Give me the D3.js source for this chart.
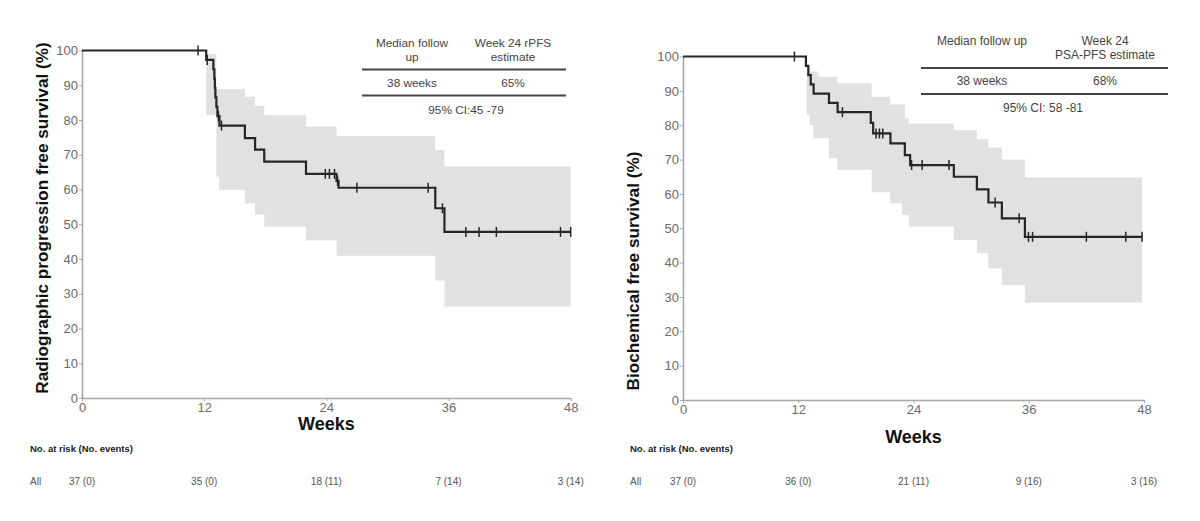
<!DOCTYPE html>
<html lang="en">
<head>
  <meta charset="UTF-8">
  <title>Kaplan-Meier</title>
  <script src="https://d3js.org/d3.v7.min.js"></script>
  <style>
    body { margin: 0; background: #fff; }
    text { font-family: "Liberation Sans", Arial, sans-serif; }
  </style>
</head>
<body>
  <div id="root"></div>
  <script>
    // ---- data ----
    const weekTicks = [0, 12, 24, 36, 48]
    const pctTicks = [0, 10, 20, 30, 40, 50, 60, 70, 80, 90, 100]

    // left: radiographic PFS
    const leftSurvTime = [0, 12.2, 12.9, 13.0, 13.05, 13.1, 13.2, 13.3, 13.5, 16.0, 17.0, 17.9, 22.0, 25.0, 25.2, 34.7, 35.6]
    const leftSurv     = [100, 97.3, 94.6, 91.9, 89.2, 86.5, 83.8, 81.1, 78.4, 74.8, 71.5, 68.0, 64.5, 62.5, 60.5, 54.6, 47.8]
    const leftEnd = 48
    const leftCensor = [11.4, 12.3, 13.4, 13.7, 23.9, 24.3, 24.8, 25.1, 27.0, 34.0, 35.4, 37.7, 39.0, 40.7, 47.0, 48.0]
    const leftCiTime = [12.2, 13.2, 13.45, 16.0, 17.0, 17.9, 22.0, 25.0, 34.7, 35.6]
    const leftLower  = [81.4, 63.7, 59.9, 56.0, 52.7, 49.3, 45.3, 40.9, 33.8, 26.3]
    const leftUpper  = [99, 88.9, 88.9, 86.7, 84.0, 81.4, 78.1, 75.4, 71.4, 66.6]
    const leftAtRisk = ['37 (0)', '35 (0)', '18 (11)', '7 (14)', '3 (14)']

    // right: biochemical (PSA) PFS
    const rightSurvTime = [0, 12.8, 13.05, 13.3, 13.6, 15.2, 16.1, 19.55, 19.8, 21.6, 23.1, 23.65, 28.2, 30.6, 31.8, 33.2, 35.6]
    const rightSurv     = [100, 97.3, 94.6, 91.9, 89.2, 86.5, 83.8, 80.7, 77.6, 74.7, 71.3, 68.4, 65.0, 61.3, 57.5, 52.9, 47.5]
    const rightEnd = 47.8
    const rightCensor = [11.6, 16.6, 20.1, 20.45, 20.8, 23.8, 24.9, 27.7, 32.5, 35.0, 35.97, 36.4, 42.0, 46.1, 47.8]
    const rightCiTime = [12.88, 13.16, 13.57, 14.1, 15.2, 16.07, 19.65, 21.56, 22.8, 23.1, 23.5, 28.2, 30.6, 31.8, 33.2, 35.6]
    const rightLower  = [83, 80, 76.2, 76.2, 70.4, 67, 60.5, 57.3, 53.9, 53.9, 50.5, 46.6, 42.7, 38.3, 33.5, 28.3]
    const rightUpper  = [95.6, 95.6, 95.6, 94.1, 94.1, 92.2, 88.3, 86, 86, 82, 80.5, 78.5, 76, 73.5, 70, 64.8]
    const rightAtRisk = ['37 (0)', '36 (0)', '21 (11)', '9 (16)', '3 (16)']

    const svg = d3.select('#root')
      .append('svg')
      .attr('width', 1200)
      .attr('height', 521)
      .style('background', '#fff')

    function drawPanel(p) {
      const x = d3.scaleLinear().domain([0, 48]).range(p.xr)
      const y = d3.scaleLinear().domain([0, 100]).range(p.yr)
      const g = svg.append('g')

      // confidence band
      const band = p.ciTime.map((t, i) => ({ t: t, lo: p.lower[i], hi: p.upper[i] }))
      band.push({ t: p.end, lo: p.lower[p.lower.length - 1], hi: p.upper[p.upper.length - 1] })
      g.append('path')
        .datum(band)
        .attr('fill', '#e1e1e1')
        .attr('d', d3.area().curve(d3.curveStepAfter)
          .x(d => x(d.t)).y0(d => y(d.lo)).y1(d => y(d.hi)))

      // axes
      const yAxis = g.append('g')
        .attr('transform', `translate(${p.xr[0]},0)`)
        .call(d3.axisLeft(y).tickValues(pctTicks).tickSize(3).tickSizeOuter(0))
      const xAxis = g.append('g')
        .attr('transform', `translate(0,${p.yr[0]})`)
        .call(d3.axisBottom(x).tickValues(weekTicks).tickSize(3).tickSizeOuter(0))
      ;[yAxis, xAxis].forEach(a => {
        a.select('.domain').attr('stroke', '#a8a8a8').attr('stroke-width', 1.6)
        a.selectAll('.tick line').attr('stroke', '#a8a8a8')
        a.selectAll('.tick text').attr('fill', '#6a6a6a').style('font-size', '13px')
          .style('font-family', '"Liberation Sans", Arial, sans-serif')
      })
      yAxis.selectAll('.tick text').attr('x', -4)
      xAxis.selectAll('.tick text').attr('y', 5)

      // survival curve
      const pts = p.survTime.map((t, i) => ({ t: t, s: p.surv[i] }))
      pts.push({ t: p.end, s: p.surv[p.surv.length - 1] })
      g.append('path')
        .datum(pts)
        .attr('fill', 'none')
        .attr('stroke', '#262626')
        .attr('stroke-width', 2.2)
        .attr('d', d3.line().curve(d3.curveStepAfter).x(d => x(d.t)).y(d => y(d.s)))

      // censor marks
      const bis = d3.bisector(d => d).right
      g.selectAll('.cens')
        .data(p.censor)
        .enter()
        .append('line')
        .attr('stroke', '#262626')
        .attr('stroke-width', 1.5)
        .attr('x1', d => x(d)).attr('x2', d => x(d))
        .attr('y1', d => y(p.surv[bis(p.survTime, d) - 1]) - 5)
        .attr('y2', d => y(p.surv[bis(p.survTime, d) - 1]) + 5)

      // axis titles
      g.append('text')
        .attr('transform', `translate(${p.yTitleX},${p.yTitleY}) rotate(-90)`)
        .attr('text-anchor', 'middle')
        .style('font-size', p.yTitleSize + 'px')
        .style('font-weight', 'bold')
        .attr('fill', '#111')
        .text(p.yTitle)
      g.append('text')
        .attr('x', x(24)).attr('y', p.weeksY)
        .attr('text-anchor', 'middle')
        .style('font-size', '18px')
        .style('font-weight', 'bold')
        .attr('fill', '#111')
        .text('Weeks')

      // info table
      const t = p.table
      g.selectAll('.hdr')
        .data(t.header)
        .enter()
        .append('text')
        .attr('x', d => d.x).attr('y', d => d.y)
        .attr('text-anchor', 'middle')
        .style('font-size', t.size + 'px')
        .attr('fill', '#444')
        .text(d => d.s)
      t.rules.forEach(r => {
        g.append('line')
          .attr('x1', t.x0).attr('x2', t.x1)
          .attr('y1', r).attr('y2', r)
          .attr('stroke', '#444').attr('stroke-width', 1.8)
      })

      // at risk table
      g.append('text')
        .attr('x', p.riskX).attr('y', 452)
        .style('font-size', '9.5px').style('font-weight', 'bold')
        .attr('fill', '#222')
        .text('No. at risk (No. events)')
      g.append('text')
        .attr('x', p.riskX).attr('y', 485)
        .style('font-size', '10px')
        .attr('fill', '#555')
        .text('All')
      g.selectAll('.risk')
        .data(p.atRisk)
        .enter()
        .append('text')
        .attr('x', (d, i) => x(weekTicks[i]))
        .attr('y', 485)
        .attr('text-anchor', 'middle')
        .style('font-size', '10px')
        .attr('fill', '#555')
        .text(d => d)
    }

    drawPanel({
      xr: [82, 570.7], yr: [398, 50.5],
      survTime: leftSurvTime, surv: leftSurv, end: leftEnd, censor: leftCensor,
      ciTime: leftCiTime, lower: leftLower, upper: leftUpper,
      atRisk: leftAtRisk, riskX: 30,
      yTitle: 'Radiographic progression free survival  (%)', yTitleX: 48, yTitleY: 218, yTitleSize: 17.2,
      weeksY: 430,
      table: {
        x0: 362, x1: 566, rules: [69.5, 95.5], size: 11.8,
        header: [
          { s: 'Median follow', x: 412, y: 47 },
          { s: 'up', x: 412, y: 61 },
          { s: 'Week 24 rPFS', x: 513, y: 47 },
          { s: 'estimate', x: 513, y: 61 },
          { s: '38 weeks', x: 412, y: 87 },
          { s: '65%', x: 513, y: 87 },
          { s: '95% CI:45 -79', x: 466, y: 114 }
        ]
      }
    })

    drawPanel({
      xr: [683, 1144], yr: [400, 56.5],
      survTime: rightSurvTime, surv: rightSurv, end: rightEnd, censor: rightCensor,
      ciTime: rightCiTime, lower: rightLower, upper: rightUpper,
      atRisk: rightAtRisk, riskX: 630,
      yTitle: 'Biochemical free survival (%)', yTitleX: 639, yTitleY: 271, yTitleSize: 17.2,
      weeksY: 443,
      table: {
        x0: 921, x1: 1168, rules: [68, 94], size: 12,
        header: [
          { s: 'Median follow up', x: 982, y: 45 },
          { s: 'Week 24', x: 1105, y: 45 },
          { s: 'PSA-PFS estimate', x: 1105, y: 59 },
          { s: '38 weeks', x: 982, y: 85 },
          { s: '68%', x: 1105, y: 85 },
          { s: '95% CI: 58 -81', x: 1043, y: 112 }
        ]
      }
    })
  </script>
</body>
</html>
